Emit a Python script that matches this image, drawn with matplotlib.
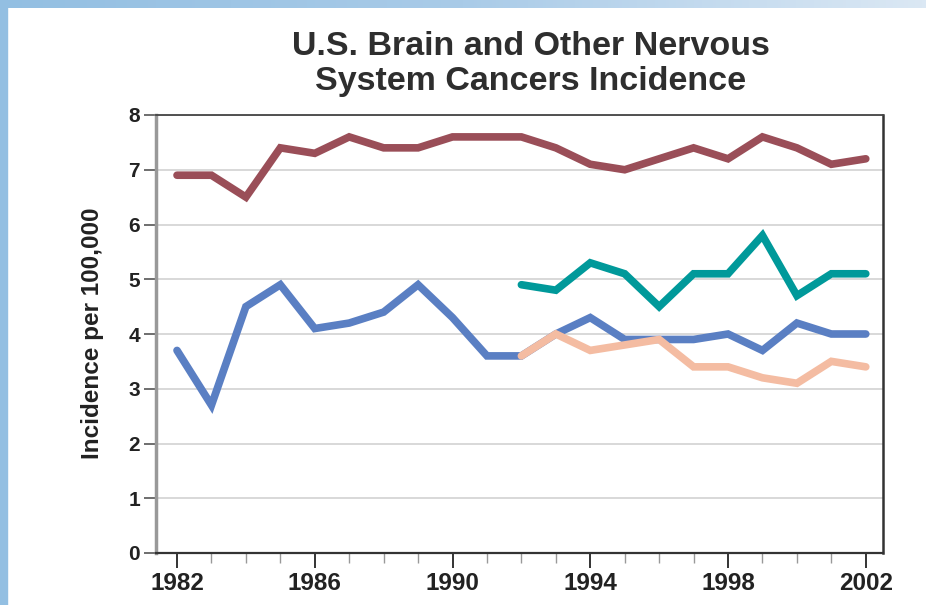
import matplotlib
matplotlib.use('Agg')
import matplotlib.pyplot as plt
import numpy as np
from matplotlib.patches import Rectangle
from matplotlib.colors import LinearSegmentedColormap
from matplotlib.ticker import MultipleLocator

plt.rcParams['font.family'] = ['Liberation Sans', 'DejaVu Sans']

# data
years = list(range(1982, 2003))
years_late = list(range(1992, 2003))
maroon_vals = [6.9, 6.9, 6.5, 7.4, 7.3, 7.6, 7.4, 7.4, 7.6, 7.6, 7.6,
               7.4, 7.1, 7.0, 7.2, 7.4, 7.2, 7.6, 7.4, 7.1, 7.2]
blue_vals = [3.7, 2.7, 4.5, 4.9, 4.1, 4.2, 4.4, 4.9, 4.3, 3.6, 3.6,
             4.0, 4.3, 3.9, 3.9, 3.9, 4.0, 3.7, 4.2, 4.0, 4.0]
teal_vals = [4.9, 4.8, 5.3, 5.1, 4.5, 5.1, 5.1, 5.8, 4.7, 5.1, 5.1]
peach_vals = [3.6, 4.0, 3.7, 3.8, 3.9, 3.4, 3.4, 3.2, 3.1, 3.5, 3.4]
x_labels = ['1982', '1986', '1990', '1994', '1998', '2002']

fig = plt.figure(figsize=(9.26, 6.05), dpi=100)

# slide decoration: blue strip on the left, gradient on top
fig.patches.append(Rectangle((0, 0), 7 / 926, 1, transform=fig.transFigure,
                             color='#93bfe2', zorder=0))
bar = fig.add_axes([0, 1 - 8 / 605, 1, 8 / 605])
grad = np.linspace(0, 1, 256).reshape(1, -1)
cmap = LinearSegmentedColormap.from_list('g', ['#93bfe2', '#a9cbe8', '#dbe8f4'])
bar.imshow(grad, aspect='auto', cmap=cmap)
bar.axis('off')

ax = fig.add_axes([156 / 926, 1 - 553 / 605, (883 - 156) / 926, (553 - 115) / 605])

line_kw = dict(lw=5.5, solid_capstyle='round', solid_joinstyle='miter')
ax.plot(years, maroon_vals, color='#9a4e58', zorder=3, **line_kw)
ax.plot(years, blue_vals, color='#5a7fc3', zorder=3, **line_kw)
ax.plot(years_late, teal_vals, color='#00999a', zorder=3, **line_kw)
ax.plot(years_late, peach_vals, color='#f4bca2', zorder=4, **line_kw)

ax.set_xlim(1981.39, 2002.5)
ax.set_ylim(0, 8)
ax.set_yticks(range(0, 9))
ax.set_xticks([int(s) for s in x_labels])
ax.set_xticklabels(x_labels)
ax.xaxis.set_minor_locator(MultipleLocator(1))
ax.yaxis.grid(True, color='#d6d6d6', lw=1.3)
ax.set_axisbelow(True)

ax.tick_params(axis='y', direction='out', length=8.5, width=1.2, color='#555555',
               labelsize=15, pad=3)
ax.tick_params(axis='x', which='major', direction='out', length=10.5, width=1.4,
               color='#333333', labelsize=17.5, pad=3)
ax.tick_params(axis='x', which='minor', direction='out', length=7, width=1,
               color='#999999')
for lab in ax.get_xticklabels() + ax.get_yticklabels():
    lab.set_fontweight('bold')
    lab.set_color('#222222')

ax.spines['left'].set_color('#999999')
ax.spines['left'].set_linewidth(2.5)
ax.spines['bottom'].set_color('#333333')
ax.spines['bottom'].set_linewidth(1.6)
ax.spines['top'].set_color('#444444')
ax.spines['top'].set_linewidth(1.3)
ax.spines['right'].set_color('#333333')
ax.spines['right'].set_linewidth(1.8)

fig.text(92 / 926, 1 - 333 / 605, 'Incidence per 100,000', rotation=90,
         ha='center', va='center', fontsize=17.5, fontweight='bold', color='#222222')

fig.text(531 / 926, 1 - 55 / 605, 'U.S. Brain and Other Nervous',
         ha='center', va='baseline', fontsize=24.5, fontweight='bold', color='#2e2e2e')
fig.text(531 / 926, 1 - 90 / 605, 'System Cancers Incidence',
         ha='center', va='baseline', fontsize=24.5, fontweight='bold', color='#2e2e2e')

fig.savefig('out.png', dpi=100)
